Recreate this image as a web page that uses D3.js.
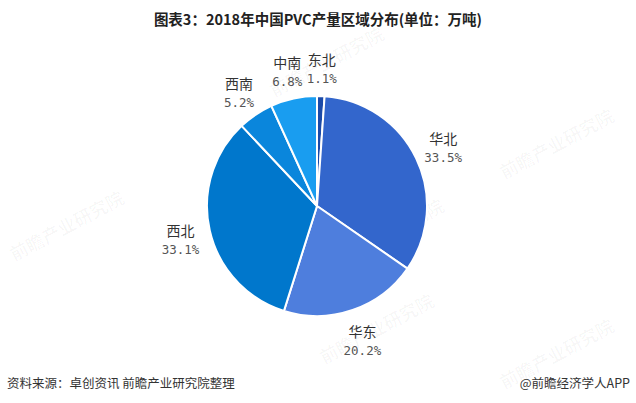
<!DOCTYPE html>
<html><head><meta charset="utf-8">
<script src="https://cdn.jsdelivr.net/npm/d3@7"></script>
<style>body{margin:0;background:#fff}svg{display:block}</style>
</head><body>
<svg id="c" width="636" height="403"></svg>
<script>
const regions = ["东北","华北","华东","西北","西南","中南"];
const shares = [1.1,33.5,20.2,33.1,5.2,6.8];
const pctLabels = ["1.1%","33.5%","20.2%","33.1%","5.2%","6.8%"];
const colors = ["#1b4aa8","#3366cc","#4e7edd","#0077cc","#0a86dc","#199df0"];

const svg = d3.select("#c");
const cx=317, cy=206, R=110, LR=140;

// faint watermarks
const wm=[[70,232],[330,68],[560,150],[390,240],[380,335],[560,360]];
wm.forEach(([x,y])=>{
  svg.append("text").attr("x",x).attr("y",y).attr("transform",`rotate(-28,${x},${y})`)
    .attr("text-anchor","middle").attr("font-family","Noto Sans CJK SC").attr("font-size",18)
    .attr("font-weight","bold").attr("fill","#000").attr("fill-opacity",0.03).text("前瞻产业研究院");
});

svg.append("text").attr("x",318).attr("y",25).attr("text-anchor","middle")
  .attr("font-family","Noto Sans CJK SC").attr("font-weight","bold").attr("font-size",14.5)
  .attr("fill","#222").text("图表3：2018年中国PVC产量区域分布(单位：万吨)");

const data = regions.map((r,i)=>({name:r,value:shares[i],pct:pctLabels[i],color:colors[i]}));
const pie = d3.pie().value(d=>d.value).sort(null);
const arcs = pie(data);
const arc = d3.arc().innerRadius(0).outerRadius(R);
const g = svg.append("g").attr("transform",`translate(${cx},${cy})`);
g.selectAll("path").data(arcs).join("path").attr("d",arc)
  .attr("fill",d=>d.data.color).attr("stroke","#fff").attr("stroke-width",2);

const lab = d3.arc().innerRadius(LR).outerRadius(LR);
arcs.forEach(a=>{
  const [x,y]=lab.centroid(a);
  const t = g.append("text").attr("text-anchor","middle").attr("font-family","Noto Sans CJK SC")
    .attr("fill","#333").attr("font-size",14);
  t.append("tspan").attr("x",x).attr("y",y-1).text(a.data.name);
  t.append("tspan").attr("x",x).attr("y",y+17).attr("font-family","DejaVu Sans Mono")
    .attr("font-size",12.5).attr("fill","#555").text(a.data.pct);
});

svg.append("text").attr("x",7).attr("y",388).attr("font-family","Noto Sans CJK SC")
  .attr("font-size",12.5).attr("fill","#333").text("资料来源：卓创资讯 前瞻产业研究院整理");
svg.append("text").attr("x",630).attr("y",388).attr("text-anchor","end").attr("font-family","Noto Sans CJK SC")
  .attr("font-size",12.5).attr("fill","#333").text("@前瞻经济学人APP");
</script>
</body></html>
